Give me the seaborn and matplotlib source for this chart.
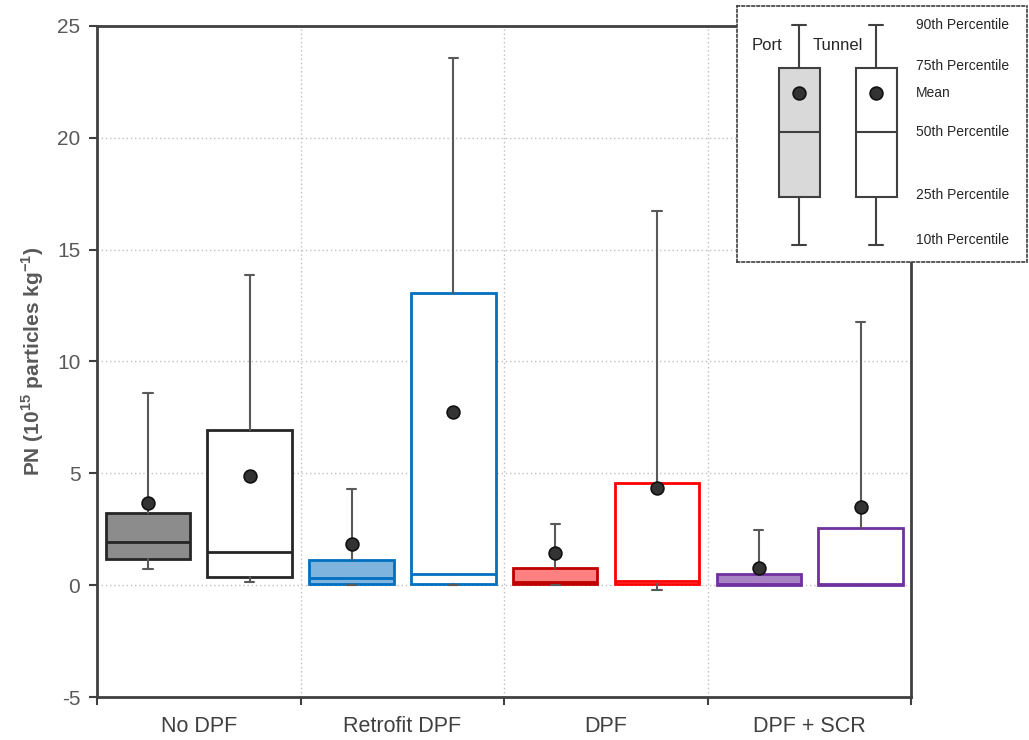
import seaborn as sns
import pandas as pd
import matplotlib.pyplot as plt

sns.set_style("white")
plt.rcParams['font.family'] = ['Liberation Sans', 'DejaVu Sans']
plt.rcParams['axes.unicode_minus'] = False
plt.rcParams['mathtext.fontset'] = 'custom'
plt.rcParams['mathtext.rm'] = 'Liberation Sans'
plt.rcParams['mathtext.bf'] = 'Liberation Sans:bold'

# percentiles (10^15 particles / kg)
categories = ["No DPF", "Retrofit DPF", "DPF", "DPF + SCR"]

port_p10 = [0.72, 0.0, 0.0, 0.0]
port_p25 = [1.18, 0.06, 0.03, 0.02]
port_p50 = [1.91, 0.30, 0.13, 0.05]
port_p75 = [3.22, 1.13, 0.76, 0.51]
port_p90 = [8.57, 4.30, 2.75, 2.45]
port_mean = [3.67, 1.82, 1.42, 0.75]

tunnel_p10 = [0.12, 0.0, -0.2, 0.0]
tunnel_p25 = [0.36, 0.06, 0.03, 0.02]
tunnel_p50 = [1.50, 0.49, 0.19, 0.05]
tunnel_p75 = [6.92, 13.07, 4.55, 2.57]
tunnel_p90 = [13.87, 23.55, 16.73, 11.76]
tunnel_mean = [4.86, 7.72, 4.36, 3.50]

edge_port = ["#262626", "#0070c0", "#c00000", "#7030a0"]
edge_tunnel = ["#262626", "#0070c0", "#ff0000", "#7030a0"]
fill_port = ["#8c8c8c", "#7eb4de", "#ff8080", "#a884c4"]

# legend key (schematic)
key_labels = ["90th Percentile", "75th Percentile", "Mean", "50th Percentile",
              "25th Percentile", "10th Percentile"]

fig = plt.figure(figsize=(10.29, 7.40), dpi=100)
ax = fig.add_axes([0.0943, 0.0581, 0.7915, 0.9069])

whisk = dict(color="#595959", linewidth=1.5)


def draw_box(pos, lo, q1, med, q3, hi, edge, fill):
    stats = [dict(whislo=lo, q1=q1, med=med, q3=q3, whishi=hi, fliers=[])]
    ax.bxp(stats, positions=[pos], widths=0.415, capwidths=0.045,
           patch_artist=True, showfliers=False, manage_ticks=False,
           boxprops=dict(facecolor=fill, edgecolor=edge, linewidth=2),
           medianprops=dict(color=edge, linewidth=2),
           whiskerprops=whisk, capprops=whisk, zorder=3)


for i in range(len(categories)):
    draw_box(i + 0.25, port_p10[i], port_p25[i], port_p50[i], port_p75[i],
             port_p90[i], edge_port[i], fill_port[i])
    draw_box(i + 0.75, tunnel_p10[i], tunnel_p25[i], tunnel_p50[i], tunnel_p75[i],
             tunnel_p90[i], edge_tunnel[i], "white")

means = pd.DataFrame({
    "x": [i + 0.25 for i in range(4)] + [i + 0.75 for i in range(4)],
    "mean": port_mean + tunnel_mean,
})
sns.scatterplot(data=means, x="x", y="mean", ax=ax, s=85, color="#333333",
                edgecolor="#111111", linewidth=1.2, zorder=5, legend=False)

ax.set_xlim(0, 4)
ax.set_ylim(-5, 25)
ax.set_yticks(range(-5, 26, 5))
ax.set_xticks(range(5))
ax.set_xticklabels([""] * 5)
ax.set_xticks([i + 0.5 for i in range(4)], minor=True)
ax.set_xticklabels(categories, minor=True)
ax.tick_params(axis="x", which="minor", length=0, labelsize=15.5,
               labelcolor="#404040", pad=14)
ax.tick_params(axis="x", which="major", length=6, width=1.5, color="#404040",
               direction="out", bottom=True)
ax.tick_params(axis="y", length=6, width=1.5, color="#404040", direction="out",
               left=True, labelsize=15, labelcolor="#595959", pad=6)
ax.set_xlabel("")
ax.set_ylabel(r"PN (10$^{\mathbf{15}}$ particles kg$^{\mathbf{-1}}$)", fontsize=15,
              fontweight="bold", color="#595959", labelpad=8)
ax.grid(True, which="major", linestyle=(0, (1, 2)), color="#bfbfbf", linewidth=1)
for s in ax.spines.values():
    s.set_color("#404040")
    s.set_linewidth(2)

# legend key box
lg = fig.add_axes([0.716, 0.646, 0.282, 0.346])
lg.set_facecolor("white")
lg.set_xlim(0, 290)
lg.set_ylim(256, 0)
lg.set_xticks([])
lg.set_yticks([])
for s in lg.spines.values():
    s.set_linestyle((0, (1.5, 1.5)))
    s.set_color("#404040")
    s.set_linewidth(1.2)

key_stats = [dict(whislo=239, q1=191, med=126, q3=62, whishi=19, fliers=[])]
kw = dict(widths=41, capwidths=14, patch_artist=True, showfliers=False,
          manage_ticks=False,
          medianprops=dict(color="#404040", linewidth=1.5),
          whiskerprops=dict(color="#404040", linewidth=1.5),
          capprops=dict(color="#404040", linewidth=1.5))
lg.bxp(key_stats, positions=[62.5],
       boxprops=dict(facecolor="#d9d9d9", edgecolor="#404040", linewidth=1.5), **kw)
lg.bxp(key_stats, positions=[139.5],
       boxprops=dict(facecolor="white", edgecolor="#404040", linewidth=1.5), **kw)
lg.scatter([62.5, 139.5], [87, 87], s=85, color="#333333", edgecolor="#111111",
           linewidth=1.2, zorder=5)
lg.text(30, 40, "Port", ha="center", va="center", fontsize=12, color="#262626")
lg.text(101, 40, "Tunnel", ha="center", va="center", fontsize=12, color="#262626")
for lab, yy in zip(key_labels, [19, 60, 87, 126, 189, 234]):
    lg.text(179, yy, lab, ha="left", va="center", fontsize=10, color="#262626")

fig.savefig("out.png", dpi=100)
